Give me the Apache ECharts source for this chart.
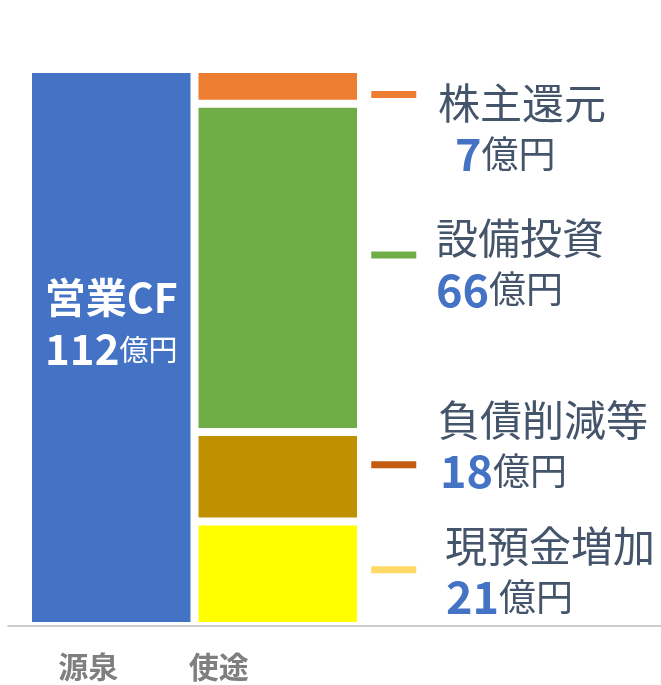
<!DOCTYPE html>
<html>
<head>
<meta charset="utf-8">
<script src="https://cdn.jsdelivr.net/npm/echarts@6/dist/echarts.min.js"></script>
<style>
	html, body { margin: 0; padding: 0; background: #fff; }
	#chart_container { width: 661px; height: 685px; }
</style>
</head>
<body>
<div id="chart_container"></div>
<script>
const categories = ["源泉", "使途"]
const sourceName = "営業CF"
const sourceValue = 112
// uses, stacked bottom to top
const useNames = ["現預金増加", "負債削減等", "設備投資", "株主還元"]
const useValues = [21, 18, 66, 7]
const unit = "億円"

const font = "Noto Sans CJK JP"
const useColors = ["#FFFF00", "#BF9000", "#70AD47", "#ED7D31"]
const dashColors = ["#FFD966", "#C55A11", "#70AD47", "#ED7D31"]
// label offset from segment right-middle, dash offset from segment centre, value-line indent
const labelOffsets = [[84, -2], [77, -31], [75, -4], [77, 42]]
const dashOffsets = [[116, -4], [116, -12], [116, -13], [116, 8]]
const valueIndent = [1, 2, 0, 17]

const barStyle = { borderColor: "#fff", borderWidth: 4 }

const series = [
	{
		name: sourceName,
		type: "bar",
		stack: "total",
		barWidth: "100%",
		data: [sourceValue, "-"],
		itemStyle: { color: "#4472C4", ...barStyle },
		label: {
			show: true,
			position: "inside",
			offset: [0, -24],
			fontFamily: font,
			formatter: `{a|${sourceName}}\n{b|${sourceValue}}{c|${unit}}`,
			rich: {
				a: { fontFamily: font, fontSize: 41, fontWeight: "bold", color: "#fff", lineHeight: 52 },
				b: { fontFamily: font, fontSize: 42, fontWeight: "bold", color: "#fff", lineHeight: 52 },
				c: { fontFamily: font, fontSize: 29, color: "#fff", lineHeight: 52 },
			},
		},
	},
]

let base = 0
useNames.forEach((name, i) => {
	const value = useValues[i]
	const mid = base + value / 2
	base += value
	series.push({
		name,
		type: "bar",
		stack: "total",
		barWidth: "100%",
		data: ["-", value],
		itemStyle: { color: useColors[i], ...barStyle },
		label: {
			show: true,
			position: "right",
			distance: 0,
			offset: labelOffsets[i],
			align: "left",
			verticalAlign: "middle",
			formatter: `{t|${name}}\n{s${i}|}{n|${value}}{u|${unit}}`,
			rich: {
				t: { fontFamily: font, fontSize: 42, color: "#44546A", lineHeight: 51 },
				n: { fontFamily: font, fontSize: 45, fontWeight: "bold", color: "#4472C4", lineHeight: 51 },
				u: { fontFamily: font, fontSize: 37, color: "#44546A", lineHeight: 51 },
				["s" + i]: { width: valueIndent[i] },
			},
		},
		markPoint: {
			symbol: "rect",
			symbolSize: [45, 7],
			symbolOffset: dashOffsets[i],
			itemStyle: { color: dashColors[i] },
			label: { show: false },
			data: [{ coord: [categories[1], mid] }],
		},
	})
})

const chart = echarts.init(document.querySelector("#chart_container"))
chart.setOption({
	animation: false,
	grid: [
		{ left: 28, top: 69, width: 333, bottom: 59 },
		{ left: 8, top: 69, right: 0, bottom: 59 },
	],
	xAxis: [
		{
			type: "category",
			data: categories,
			axisLine: { show: false },
			axisTick: { show: false },
			axisLabel: {
				margin: 26,
				fontSize: 30,
				fontWeight: "bold",
				fontFamily: font,
				color: "#7F7F7F",
				formatter: (v, i) => `{c${i}|${v}}`,
				rich: {
					c0: { fontFamily: font, fontSize: 30, fontWeight: "bold", color: "#7F7F7F", padding: [0, 46, 0, 0] },
					c1: { fontFamily: font, fontSize: 30, fontWeight: "bold", color: "#7F7F7F", padding: [0, 118, 0, 0] },
				},
			},
		},
		{
			type: "value",
			gridIndex: 1,
			z: 10,
			axisLine: { show: true, onZero: false, lineStyle: { color: "#BFBFBF", width: 1.5 } },
			axisTick: { show: false },
			axisLabel: { show: false },
			splitLine: { show: false },
		},
	],
	yAxis: [
		{ type: "value", min: 0, max: sourceValue, show: false },
		{ type: "value", gridIndex: 1, show: false },
	],
	series,
})
</script>
</body>
</html>
